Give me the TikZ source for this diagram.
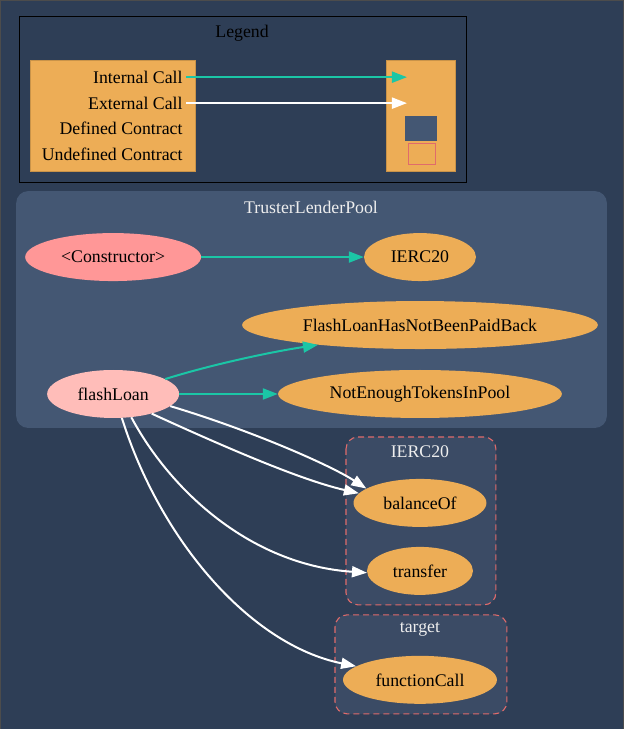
\documentclass[tikz,border=0pt]{standalone}
\usepackage{fontspec}
\setmainfont{Liberation Serif}
\usetikzlibrary{shapes.geometric,arrows.meta,positioning}

\definecolor{bgblue}{HTML}{2E3E56}
\definecolor{poolblue}{HTML}{445773}
\definecolor{extblue}{HTML}{3B4B65}
\definecolor{fnorange}{HTML}{EDAD56}
\definecolor{ctorpink}{HTML}{FF9797}
\definecolor{fnpink}{HTML}{FFBDB9}
\definecolor{callteal}{HTML}{1BC6A6}
\definecolor{dashred}{HTML}{E06B6B}
\definecolor{titlegrey}{HTML}{EEEEEE}

\newcommand\gvfont{\fontsize{17.8}{21}\selectfont}

\tikzset{
  fn/.style={ellipse, fill=fnorange, inner sep=0pt, minimum height=48pt, font=\gvfont},
  ctor/.style={fn, fill=ctorpink},
  pubfn/.style={fn, fill=fnpink},
  cltitle/.style={text=titlegrey, font=\gvfont},
  internal/.style={callteal, line width=2pt, -{Triangle[length=15pt,width=11pt]}},
  external/.style={white, line width=2pt, -{Triangle[length=15pt,width=11pt]}},
  extcluster/.style={dashred, dashed, dash pattern=on 6pt off 4pt, line width=1.1pt, fill=extblue, rounded corners=12pt}
}

\begin{document}
\begin{tikzpicture}[x=1pt,y=-1pt]
% Background
\fill[bgblue, draw=black!70] (0,0) rectangle (623,729);
\useasboundingbox (0,0) rectangle (623,729);

% Legend
\draw[black, fill=bgblue] (19,16) rectangle (466,182);
\node[font=\gvfont] (legTitle) at (242,33) {Legend};
\draw[fnorange!85!black, fill=fnorange] (30,60) rectangle (195,171);
\draw[fnorange!85!black, fill=fnorange] (386,60) rectangle (455,171);
\foreach \y/\txt/\nm in {77/Internal Call/lgInt, 103/External Call/lgExt,
    128/Defined Contract/lgDef, 154/Undefined Contract/lgUndef}
  \node[anchor=east, font=\gvfont] (\nm) at (186,\y) {\txt};
\coordinate (lgIntEnd) at (407,77);
\coordinate (lgExtEnd) at (407,103);
\draw[internal] (lgInt.east) -- (lgIntEnd);
\draw[external] (lgExt.east) -- (lgExtEnd);
\fill[poolblue] (405,116) rectangle (437,141);
\draw[dashred, fill=fnorange] (408,143) rectangle (435,164);

% TrusterLenderPool cluster
\fill[poolblue, rounded corners=12pt] (16,191) rectangle (607,428);
\node[cltitle] (poolTitle) at (311,207) {TrusterLenderPool};
\node[ctor, minimum width=176pt] (ctor) at (113,257) {<Constructor>};
\node[fn, minimum width=112pt] (ierc) at (420,257) {IERC20};
\node[fn, minimum width=356pt] (notPaid) at (420,325) {FlashLoanHasNotBeenPaidBack};
\node[pubfn, minimum width=132pt] (flashLoan) at (113,394) {flashLoan};
\node[fn, minimum width=284pt] (notEnough) at (420,394) {NotEnoughTokensInPool};

% IERC20 cluster
\draw[extcluster] (346,437) rectangle (496,605);
\node[cltitle] (ercTitle) at (420,452) {IERC20};
\node[fn, minimum width=133pt] (balanceOf) at (420,503) {balanceOf};
\node[fn, minimum width=106pt] (transfer) at (420,571) {transfer};

% target cluster
\draw[extcluster] (335,615) rectangle (507,714);
\node[cltitle] (targetTitle) at (420,630) {target};
\node[fn, minimum width=154pt] (functionCall) at (420,680) {functionCall};

% Internal calls
\draw[internal] (ctor.east) -- (ierc.west);
\draw[internal] (flashLoan.16) .. controls (210,365) and (270,352) .. (notPaid.191);
\draw[internal] (flashLoan.east) -- (notEnough.west);

% External calls
\draw[external] (flashLoan.-12) .. controls (250,430) and (330,465) .. (balanceOf.165);
\draw[external] (flashLoan.-27) .. controls (220,445) and (300,480) .. (balanceOf.171);
\draw[external] (flashLoan.-52) .. controls (170,490) and (250,565) .. (transfer.182);
\draw[external] (flashLoan.-70) .. controls (160,540) and (250,645) .. (functionCall.168);
\end{tikzpicture}
\end{document}
